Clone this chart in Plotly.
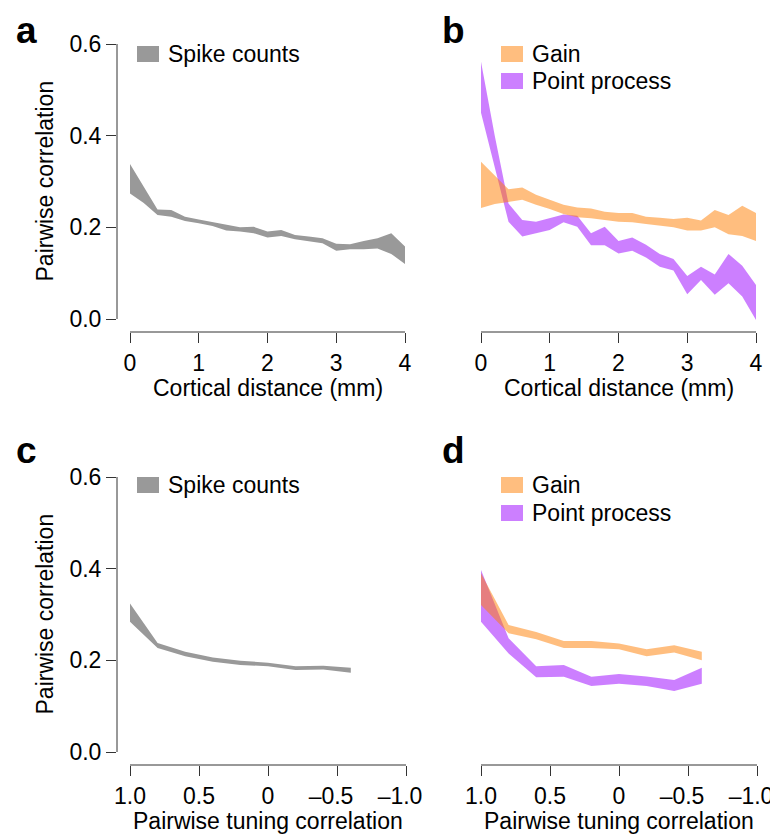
import plotly.graph_objects as go

# page is 778x840; the html body adds an 8px margin, so the figure is drawn 8px smaller
PAGE_W, PAGE_H, BODY = 778, 840, 8
W, H = PAGE_W - BODY, PAGE_H - BODY

# cortical distance (mm), panels a/b
dist = [0.0, 0.2, 0.4, 0.6, 0.8, 1.0, 1.2, 1.4, 1.6, 1.8, 2.0,
        2.2, 2.4, 2.6, 2.8, 3.0, 3.2, 3.4, 3.6, 3.8, 4.0]
spike_a_hi = [0.338, 0.290, 0.239, 0.238, 0.223, 0.217, 0.211, 0.205, 0.200, 0.201, 0.191,
              0.194, 0.183, 0.180, 0.176, 0.164, 0.163, 0.170, 0.176, 0.187, 0.158]
spike_a_lo = [0.274, 0.253, 0.227, 0.223, 0.214, 0.209, 0.203, 0.193, 0.191, 0.187, 0.178,
              0.181, 0.174, 0.170, 0.165, 0.149, 0.152, 0.152, 0.154, 0.142, 0.120]
gain_b_hi = [0.343, 0.314, 0.283, 0.287, 0.271, 0.260, 0.249, 0.243, 0.241, 0.234, 0.231,
             0.231, 0.223, 0.221, 0.218, 0.221, 0.215, 0.238, 0.227, 0.247, 0.231]
gain_b_lo = [0.242, 0.251, 0.256, 0.260, 0.249, 0.240, 0.229, 0.222, 0.220, 0.216, 0.212,
             0.211, 0.207, 0.203, 0.200, 0.193, 0.193, 0.200, 0.185, 0.181, 0.170]
pp_b_hi = [0.561, 0.400, 0.252, 0.216, 0.212, 0.220, 0.228, 0.225, 0.187, 0.201, 0.170,
           0.178, 0.162, 0.142, 0.131, 0.094, 0.114, 0.097, 0.142, 0.116, 0.074]
pp_b_lo = [0.450, 0.328, 0.212, 0.180, 0.187, 0.194, 0.211, 0.201, 0.161, 0.161, 0.143,
           0.149, 0.134, 0.114, 0.106, 0.054, 0.085, 0.053, 0.078, 0.049, -0.002]

# pairwise tuning correlation, panels c/d
tune = [1.0, 0.8, 0.6, 0.4, 0.2, 0.0, -0.2, -0.4, -0.6]
spike_c_hi = [0.324, 0.238, 0.219, 0.206, 0.199, 0.195, 0.187, 0.188, 0.184]
spike_c_lo = [0.284, 0.227, 0.209, 0.197, 0.190, 0.187, 0.179, 0.180, 0.173]
gain_d_hi = [0.390, 0.277, 0.262, 0.242, 0.242, 0.237, 0.224, 0.233, 0.219]
gain_d_lo = [0.321, 0.259, 0.246, 0.227, 0.227, 0.224, 0.209, 0.217, 0.200]
pp_d_hi = [0.397, 0.248, 0.187, 0.190, 0.164, 0.170, 0.165, 0.157, 0.184]
pp_d_lo = [0.284, 0.215, 0.163, 0.164, 0.144, 0.149, 0.144, 0.133, 0.149]

dist_ticks = [0, 1, 2, 3, 4]
tune_ticks = [1.0, 0.5, 0.0, -0.5, -1.0]
tune_pos_text = ["1.0", "0.5", "0", "", ""]
tune_neg_ticks = [-0.5, -1.0]
tune_neg_text = ["\u20130.5", "\u20131.0"]
corr_ticks = [0.0, 0.2, 0.4, 0.6]
corr_ticktext = ["0.0", "0.2", "0.4", "0.6"]

GRAY = "#999999"
ORANGE = "rgba(255,125,0,0.5)"
PURPLE = "rgba(153,0,255,0.5)"
AXCOL = "#333333"
FONT = "Liberation Sans, Arial, sans-serif"
FS = 23


def fx(px):
    return (px - BODY) / W


def fy(py):
    return 1 - (py - BODY) / H


# page-pixel geometry of each panel: where two data values land, and the axes box
panels = {
    "a": dict(n="", xval=(0, 4), xpix=(130, 405), ypix=(319, 44), box=(117, 407, 332, 34), letter=(14, 30)),
    "b": dict(n="2", xval=(0, 4), xpix=(481, 756), ypix=(319, 44), box=(468, 758, 332, 34), letter=(440, 30)),
    "c": dict(n="3", xval=(1, -1), xpix=(130, 406), ypix=(752, 477), box=(117, 407, 765, 467), letter=(14, 450)),
    "d": dict(n="4", xval=(1, -1), xpix=(481, 757), ypix=(752, 477), box=(468, 758, 765, 467), letter=(440, 450)),
}
# extra overlaid x axes that only carry the dashed labels, nudged left like the original
# (the axis is reversed, so a positive shift moves them left on screen)
neg_axes = {"c": "5", "d": "6"}

bands = [
    ("a", dist, spike_a_lo, spike_a_hi, GRAY),
    ("b", dist, pp_b_lo, pp_b_hi, PURPLE),
    ("b", dist, gain_b_lo, gain_b_hi, ORANGE),
    ("c", tune, spike_c_lo, spike_c_hi, GRAY),
    ("d", tune, pp_d_lo, pp_d_hi, PURPLE),
    ("d", tune, gain_d_lo, gain_d_hi, ORANGE),
]

fig = go.Figure()
for key, xs, lo, hi, col in bands:
    n = panels[key]["n"]
    fig.add_trace(go.Scatter(
        x=list(xs) + list(xs)[::-1], y=list(hi) + list(lo)[::-1],
        fill="toself", fillcolor=col, mode="lines", line=dict(width=0),
        hoverinfo="skip", showlegend=False, xaxis="x" + n, yaxis="y" + n,
    ))
for key, m in neg_axes.items():
    fig.add_trace(go.Scatter(x=[], y=[], showlegend=False, hoverinfo="skip",
                             xaxis="x" + m, yaxis="y" + panels[key]["n"]))

layout = {}
shapes = []
annotations = []
for key, p in panels.items():
    n = p["n"]
    left, right, bottom, top = p["box"]
    (v0, v1), (q0, q1) = p["xval"], p["xpix"]
    sx = (q1 - q0) / (v1 - v0)
    xr = [v0 + (left - q0) / sx, v0 + (right - q0) / sx]
    sy = (p["ypix"][1] - p["ypix"][0]) / 0.6
    yr = [(bottom - p["ypix"][0]) / sy, (top - p["ypix"][0]) / sy]
    is_dist = key in ("a", "b")
    xax = dict(
        domain=[fx(left), fx(right)], range=xr, anchor="y" + n,
        showgrid=False, zeroline=False, showline=False,
        ticks="outside", ticklen=10, tickwidth=1, tickcolor=AXCOL,
        tickvals=dist_ticks if is_dist else tune_ticks,
        ticktext=[str(t) for t in dist_ticks] if is_dist else tune_pos_text,
        tickfont=dict(size=FS, color="black", family=FONT),
        ticklabeloverflow="allow", automargin=False, fixedrange=True,
    )
    layout["xaxis" + n] = xax
    if key in neg_axes:
        layout["xaxis" + neg_axes[key]] = dict(
            xax, tickvals=tune_neg_ticks, ticktext=tune_neg_text,
            tickcolor="rgba(0,0,0,0)", ticklabelshift=6, overlaying="x" + n,
        )
    show_y = key in ("a", "c")
    layout["yaxis" + n] = dict(
        domain=[fy(bottom), fy(top)], range=yr, anchor="x" + n,
        showgrid=False, zeroline=False, showline=False,
        ticks="outside" if show_y else "", ticklen=10, tickwidth=1, tickcolor=AXCOL,
        showticklabels=show_y, tickvals=corr_ticks, ticktext=corr_ticktext,
        tickfont=dict(size=FS, color="black", family=FONT),
        ticklabeloverflow="allow", automargin=False, fixedrange=True,
    )
    # detached R-style axis lines
    xv = p["xval"]
    shapes.append(dict(type="line", xref="x" + n, yref="y" + n + " domain",
                       x0=xv[0], x1=xv[1], y0=0, y1=0, line=dict(color=AXCOL, width=1)))
    if show_y:
        shapes.append(dict(type="line", xref="x" + n + " domain", yref="y" + n,
                           x0=0, x1=0, y0=0, y1=0.6, line=dict(color=AXCOL, width=1)))
        annotations.append(dict(
            text="Pairwise correlation", textangle=-90, xref="paper", yref="paper",
            x=fx(44), y=fy((p["ypix"][0] + p["ypix"][1]) / 2), showarrow=False,
            xanchor="center", yanchor="middle", font=dict(size=FS, family=FONT, color="black"),
        ))
    annotations.append(dict(
        text="Cortical distance (mm)" if is_dist else "Pairwise tuning correlation",
        xref="paper", yref="paper", x=fx((q0 + q1) / 2), y=fy(bottom + 56),
        showarrow=False, xanchor="center", yanchor="middle",
        font=dict(size=FS, family=FONT, color="black"),
    ))
    lx, ly = p["letter"]
    annotations.append(dict(
        text="<b>%s</b>" % key, xref="paper", yref="paper", x=fx(lx), y=fy(ly),
        showarrow=False, xanchor="left", yanchor="middle",
        font=dict(size=37, family=FONT, color="black"),
    ))

# legends: swatch rectangles + labels, in page pixels
legend_items = [
    (137, 46, "Spike counts", GRAY),
    (501, 46, "Gain", ORANGE),
    (501, 73, "Point process", PURPLE),
    (137, 477, "Spike counts", GRAY),
    (501, 477, "Gain", ORANGE),
    (501, 505, "Point process", PURPLE),
]
for lx, ly, label, col in legend_items:
    shapes.append(dict(type="rect", xref="paper", yref="paper",
                       x0=fx(lx), x1=fx(lx + 22), y0=fy(ly), y1=fy(ly + 16),
                       fillcolor=col, line=dict(width=0)))
    annotations.append(dict(
        text=label, xref="paper", yref="paper", x=fx(lx + 29), y=fy(ly + 8),
        showarrow=False, xanchor="left", yanchor="middle",
        font=dict(size=FS, family=FONT, color="black"),
    ))

fig.update_layout(
    width=W, height=H, margin=dict(l=0, r=0, t=0, b=0),
    paper_bgcolor="white", plot_bgcolor="white",
    shapes=shapes, annotations=annotations, **layout,
)
fig.write_html("out.html")
